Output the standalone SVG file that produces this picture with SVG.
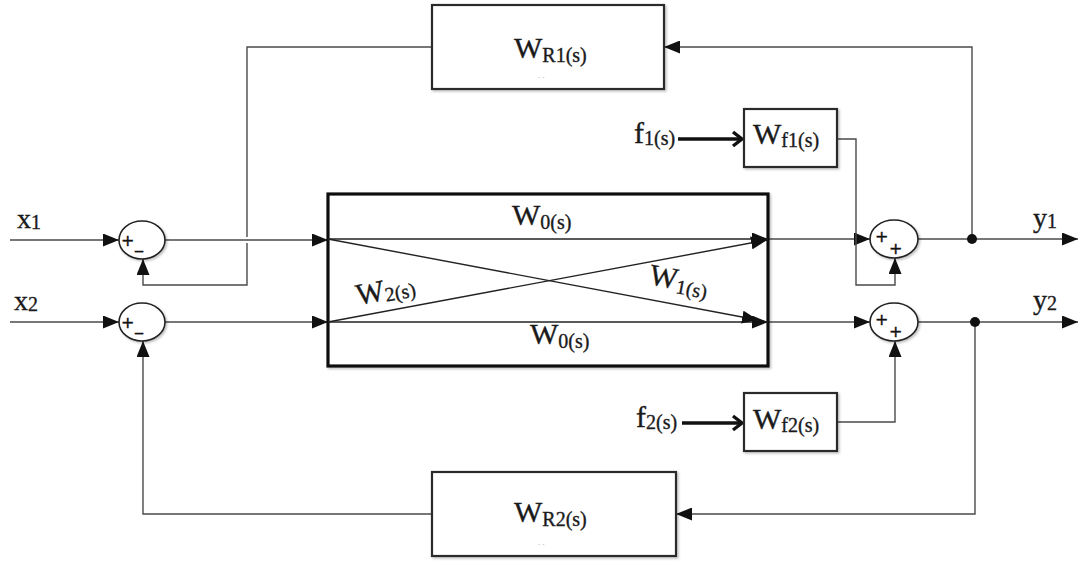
<svg xmlns="http://www.w3.org/2000/svg" width="1086" height="563" viewBox="0 0 1086 563">
  <style>
    .wire { fill: none; stroke: #4a4a4a; stroke-width: 1.4; }
    .blk { fill: #fff; stroke: #2a2a2a; stroke-width: 2.2; }
    .main { fill: #fff; stroke: #111; stroke-width: 3.2; }
    .sum { fill: #fff; stroke: #222; stroke-width: 1.6; }
    .inner { fill: none; stroke: #222; stroke-width: 1.4; }
    .thick { fill: none; stroke: #111; stroke-width: 3.4; }
    .big { font-size: 30px; }
    .sub { font-size: 20px; }
    .sign { font-family: "DejaVu Sans", "Liberation Sans", sans-serif; font-size: 16px; fill: #111; stroke: #111; stroke-width: 0.4; }
    .faint { font-family: "Liberation Sans", sans-serif; font-size: 7px; fill: #bbb; stroke: none; }
  </style>
  <defs>
    <marker id="arr" markerUnits="userSpaceOnUse" markerWidth="17" markerHeight="13" refX="16" refY="6.5" orient="auto">
      <path d="M0,0 L16,6.5 L0,13 z" fill="#111"/>
    </marker>
    <marker id="chev" markerUnits="userSpaceOnUse" markerWidth="14" markerHeight="18" refX="11" refY="9" orient="auto">
      <path d="M2,2 L11,9 L2,16" fill="none" stroke="#111" stroke-width="3.4" stroke-linejoin="miter"/>
    </marker>
    <filter id="shadow" x="-10%" y="-10%" width="130%" height="130%">
      <feDropShadow dx="1.5" dy="1.5" stdDeviation="1" flood-color="#000" flood-opacity="0.25"/>
    </filter>
  </defs>

  <!-- connectors -->
  <g id="connectors">
    <!-- inputs into the summing points -->
    <path class="wire" d="M10,240 H119" marker-end="url(#arr)"/>
    <path class="wire" d="M10,322 H119" marker-end="url(#arr)"/>
    <!-- summing points into the plant -->
    <path class="wire" d="M165,240 H328" marker-end="url(#arr)"/>
    <path class="wire" d="M165,322 H328" marker-end="url(#arr)"/>
    <!-- plant outputs into the disturbance summers -->
    <path class="wire" d="M768,239 H870" marker-end="url(#arr)"/>
    <path class="wire" d="M768,322 H870" marker-end="url(#arr)"/>
    <!-- outputs -->
    <path class="wire" d="M918,239 H1078" marker-end="url(#arr)"/>
    <path class="wire" d="M918,322 H1078" marker-end="url(#arr)"/>
    <!-- upper feedback loop (vertical broken where it crosses the x1 path) -->
    <path class="wire" d="M972,239 V47 H664" marker-end="url(#arr)"/>
    <path class="wire" d="M432,47 H247 V237 M247,243 V285 H143 V259" marker-end="url(#arr)"/>
    <!-- lower feedback loop -->
    <path class="wire" d="M975,322 V514 H676" marker-end="url(#arr)"/>
    <path class="wire" d="M432,514 H143 V341" marker-end="url(#arr)"/>
    <!-- disturbance paths -->
    <path class="wire" d="M837,139 H856 V285 H895 V258" marker-end="url(#arr)"/>
    <path class="wire" d="M837,422 H895 V341" marker-end="url(#arr)"/>
    <path class="thick" d="M678,139 H742" marker-end="url(#chev)"/>
    <path class="thick" d="M682,423 H742" marker-end="url(#chev)"/>
    <!-- branch points -->
    <circle cx="972" cy="239" r="5" fill="#111"/>
    <circle cx="975" cy="322" r="5" fill="#111"/>
  </g>

  <g font-family="Liberation Serif, Times New Roman, serif" fill="#1a1a1a" stroke="#1a1a1a" stroke-width="0.35">
    <!-- plant with cross couplings -->
    <g id="plant">
      <rect class="main" x="328" y="194" width="440" height="172" filter="url(#shadow)"/>
      <path class="inner" d="M328,239 H768" marker-end="url(#arr)"/>
      <path class="inner" d="M328,322 H768" marker-end="url(#arr)"/>
      <path class="inner" d="M328,239 L758,320" marker-end="url(#arr)"/>
      <path class="inner" d="M328,322 L767,240" marker-end="url(#arr)"/>
      <text x="512" y="225"><tspan class="big">W</tspan><tspan class="sub" dy="4">0(s)</tspan></text>
      <text x="530" y="344"><tspan class="big">W</tspan><tspan class="sub" dy="4">0(s)</tspan></text>
      <text transform="translate(358,305) rotate(-10.5)"><tspan class="big">W</tspan><tspan class="sub" dy="2">2(s)</tspan></text>
      <text transform="translate(648,284) rotate(10.5)"><tspan class="big">W</tspan><tspan class="sub" dy="4">1(s)</tspan></text>
    </g>

    <!-- controllers -->
    <g id="WR1">
      <rect class="blk" x="432" y="5" width="232" height="84" filter="url(#shadow)"/>
      <text x="514" y="58"><tspan class="big">W</tspan><tspan class="sub" dy="4">R1(s)</tspan></text>
      <text class="faint" x="538" y="79">- -</text>
    </g>
    <g id="WR2">
      <rect class="blk" x="432" y="472" width="244" height="84" filter="url(#shadow)"/>
      <text x="514" y="522"><tspan class="big">W</tspan><tspan class="sub" dy="4">R2(s)</tspan></text>
      <text class="faint" x="538" y="546">- -</text>
    </g>

    <!-- disturbance filters -->
    <g id="Wf1">
      <rect class="blk" x="744" y="109" width="93" height="58" filter="url(#shadow)"/>
      <text x="753" y="144"><tspan class="big">W</tspan><tspan class="sub" dy="3">f1(s)</tspan></text>
    </g>
    <g id="Wf2">
      <rect class="blk" x="744" y="393" width="93" height="58" filter="url(#shadow)"/>
      <text x="753" y="429"><tspan class="big">W</tspan><tspan class="sub" dy="3">f2(s)</tspan></text>
    </g>

    <!-- signal labels -->
    <g id="signals">
      <text x="17" y="228"><tspan font-size="28">x</tspan><tspan font-size="20" dy="1">1</tspan></text>
      <text x="14" y="310"><tspan font-size="28">x</tspan><tspan font-size="20" dy="1">2</tspan></text>
      <text x="1033" y="227"><tspan font-size="28">y</tspan><tspan font-size="20" dy="1">1</tspan></text>
      <text x="1033" y="309"><tspan font-size="28">y</tspan><tspan font-size="20" dy="1">2</tspan></text>
      <text x="634" y="143"><tspan font-size="30">f</tspan><tspan font-size="20" dy="2">1(s)</tspan></text>
      <text x="636" y="427"><tspan font-size="30">f</tspan><tspan font-size="20" dy="2">2(s)</tspan></text>
    </g>
  </g>

  <!-- summing points -->
  <g id="sum1">
    <ellipse class="sum" cx="142" cy="240" rx="23" ry="19" filter="url(#shadow)"/>
    <text class="sign" x="121" y="246">+</text>
    <text class="sign" x="135" y="248">_</text>
  </g>
  <g id="sum2">
    <ellipse class="sum" cx="142" cy="322" rx="23" ry="19" filter="url(#shadow)"/>
    <text class="sign" x="121" y="328">+</text>
    <text class="sign" x="135" y="330">_</text>
  </g>
  <g id="sum3">
    <ellipse class="sum" cx="894" cy="239" rx="24" ry="19" filter="url(#shadow)"/>
    <text class="sign" x="875" y="242">+</text>
    <text class="sign" x="889" y="254">+</text>
  </g>
  <g id="sum4">
    <ellipse class="sum" cx="894" cy="322" rx="24" ry="19" filter="url(#shadow)"/>
    <text class="sign" x="875" y="325">+</text>
    <text class="sign" x="889" y="337">+</text>
  </g>
</svg>
